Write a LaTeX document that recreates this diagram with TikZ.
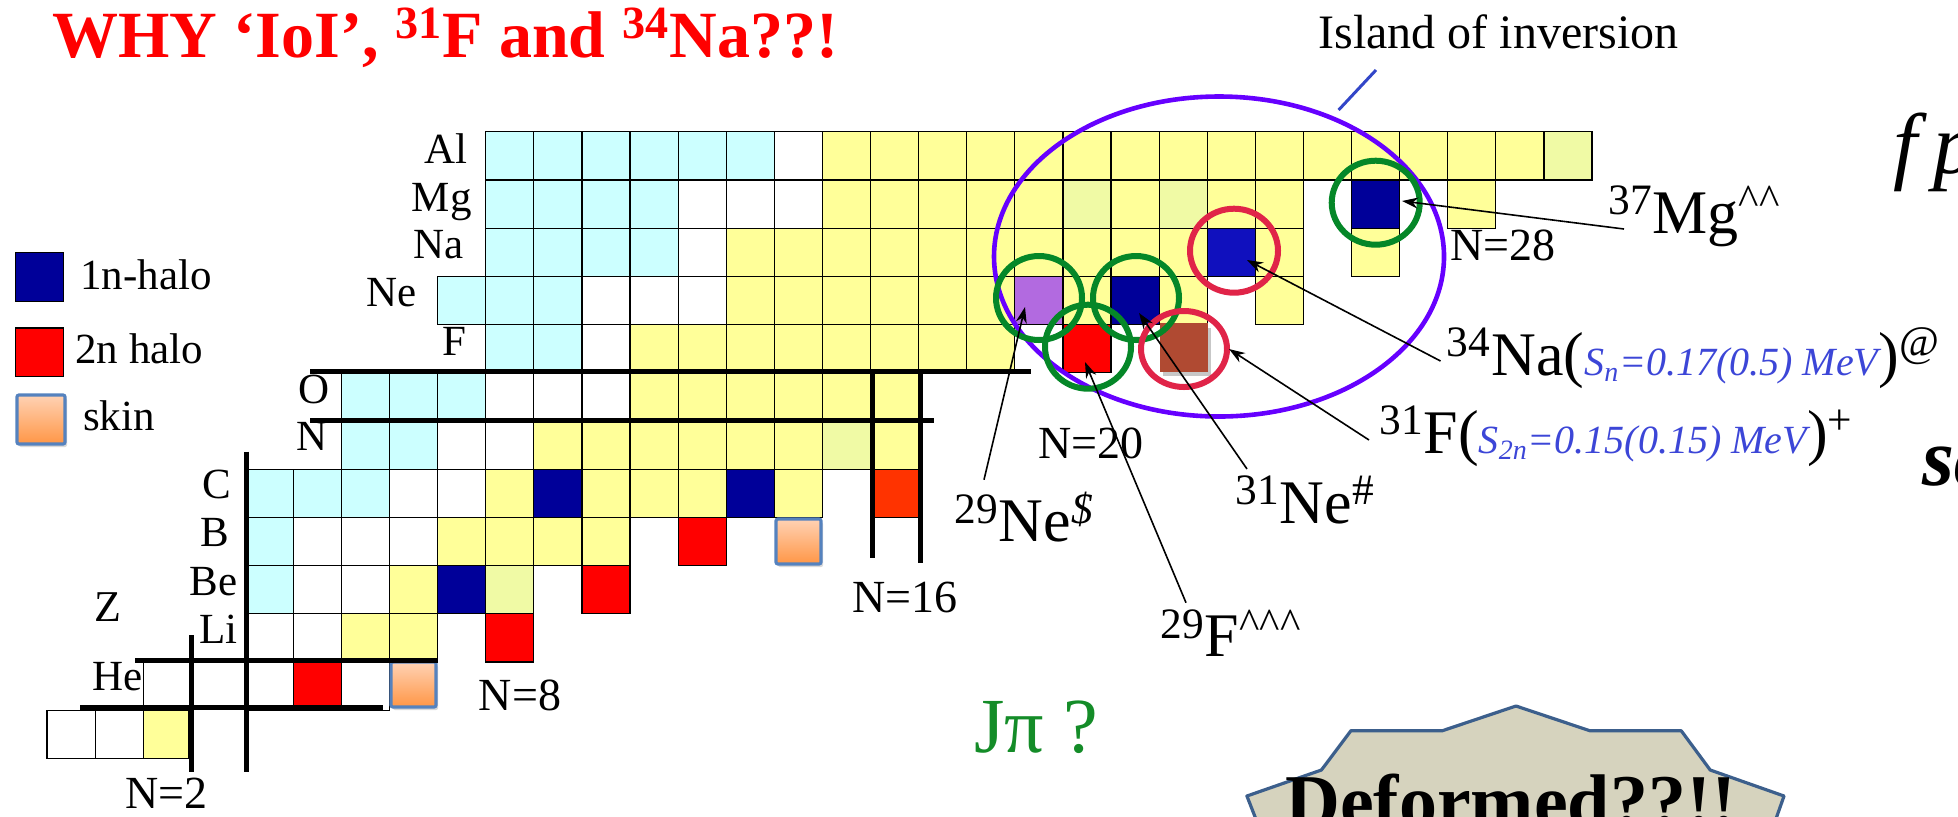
\documentclass[tikz,border=0pt]{standalone}
\usepackage{fontspec}
\setmainfont{Liberation Serif}
\usepackage{xcolor}
\usepackage{tikz}
\usetikzlibrary{arrows.meta, shadows}

\definecolor{nucCyan}{RGB}{204,255,255}
\definecolor{nucYellow}{RGB}{255,255,153}
\definecolor{nucPale}{RGB}{240,250,165}
\definecolor{haloOne}{RGB}{0,0,153}
\definecolor{haloOneB}{RGB}{16,16,190}
\definecolor{haloTwo}{RGB}{255,0,0}
\definecolor{haloTwoB}{RGB}{255,51,0}
\definecolor{nePurple}{RGB}{178,106,224}
\definecolor{fBrown}{RGB}{176,74,50}
\definecolor{islViolet}{RGB}{102,0,255}
\definecolor{islBlue}{RGB}{50,70,200}
\definecolor{ringGreen}{RGB}{5,135,40}
\definecolor{ringRed}{RGB}{224,36,72}
\definecolor{labBlue}{RGB}{60,70,215}
\definecolor{skinEdge}{RGB}{85,130,190}
\definecolor{skinTop}{RGB}{255,210,180}
\definecolor{skinBot}{RGB}{255,150,70}
\definecolor{deformFill}{RGB}{214,211,190}
\definecolor{deformEdge}{RGB}{60,95,140}
\definecolor{jpGreen}{RGB}{20,140,40}

% one box of the chart: column, Z, colour
\newcommand{\nuc}[3]{\filldraw[cell, fill=#3] ({485.7+48.1*(#1)},{131.7+48.2*(13-(#2))}) rectangle ++(48.1,48.2);}
\newcommand{\sepText}[1]{{\color{labBlue}\fontsize{20}{22}\selectfont\itshape #1}}

\begin{document}
\begin{tikzpicture}[
        x=0.5pt, y=-0.5pt,
        cell/.style={draw=black, line width=0.6pt},
        magic/.style={line width=2.5pt},
        skinbox/.style={draw=skinEdge, line width=1.6pt, rounded corners=1pt, top color=skinTop, bottom color=skinBot,
            drop shadow={opacity=0.3, shadow xshift=1pt, shadow yshift=-1.5pt}},
        ring/.style={line width=3pt},
        ptr/.style={-{Stealth[length=8pt, width=5.5pt]}, line width=0.8pt},
        elt/.style={anchor=base east, inner sep=0pt, font=\fontsize{21.5}{24}\selectfont},
        legend/.style={anchor=base west, inner sep=0pt, font=\fontsize{21.5}{24}\selectfont},
        magicnum/.style={anchor=base west, inner sep=0pt, font=\fontsize{23}{26}\selectfont},
        nucl/.style={anchor=base west, inner sep=0pt, font=\fontsize{31}{34}\selectfont}
    ]
    \useasboundingbox (0,0) rectangle (1958,816);
    \clip (0,0) rectangle (1958,816);

    \node[anchor=base west, inner sep=0pt, text=red, font=\fontsize{33}{36}\selectfont\bfseries] (title) at (52,57)
        {WHY ‘IoI’, \textsuperscript{31}F and \textsuperscript{34}Na??!};

    % legend
    \filldraw[cell, fill=haloOne] (15.6,252.7) rectangle (63.8,301.3);
    \node[legend] (legOne) at (80,289) {1n-halo};
    \filldraw[cell, fill=haloTwo] (15.6,328) rectangle (63.8,376.7);
    \node[legend] (legTwo) at (75,363) {2n halo};
    \draw[skinbox] (17,395) rectangle (65,444);
    \node[legend] (legSkin) at (82.6,430) {skin};

    % chart
    \foreach \z/\from/\to/\c in {
        13/0/5/nucCyan, 13/6/6/white, 13/7/21/nucYellow, 13/22/22/nucPale,
        12/0/3/nucCyan, 12/4/6/white, 12/7/11/nucYellow, 12/12/12/nucPale, 12/13/13/nucYellow, 12/14/14/nucPale,
        12/15/16/nucYellow, 12/18/18/haloOne, 12/20/20/nucYellow,
        11/0/3/nucCyan, 11/4/4/white, 11/5/14/nucYellow, 11/15/15/haloOneB, 11/16/16/nucYellow, 11/18/18/nucYellow,
        10/-1/1/nucCyan, 10/2/4/white, 10/5/10/nucYellow, 10/11/11/nePurple, 10/12/12/nucYellow, 10/13/13/haloOne,
        10/14/14/nucYellow, 10/16/16/nucYellow,
        9/0/1/nucCyan, 9/2/2/white, 9/3/10/nucYellow, 9/12/12/haloTwo,
        8/-3/-1/nucCyan, 8/0/2/white, 8/3/8/nucYellow,
        7/-3/-2/nucCyan, 7/-1/0/white, 7/1/6/nucYellow, 7/7/7/nucPale, 7/8/8/nucYellow,
        6/-5/-3/nucCyan, 6/-2/-1/white, 6/0/0/nucYellow, 6/1/1/haloOne, 6/2/4/nucYellow, 6/5/5/haloOne,
        6/6/6/nucYellow, 6/8/8/haloTwoB,
        5/-5/-5/nucCyan, 5/-4/-2/white, 5/-1/2/nucYellow, 5/4/4/haloTwo,
        4/-5/-5/nucCyan, 4/-4/-3/white, 4/-2/-2/nucYellow, 4/-1/-1/haloOne, 4/0/0/nucPale, 4/2/2/haloTwo,
        3/-5/-4/white, 3/-3/-2/nucYellow, 3/0/0/haloTwo,
        2/-5/-5/white, 2/-4/-4/haloTwo, 2/-3/-3/white}
        \foreach \j in {\from,...,\to} {\nuc{\j}{\z}{\c}};
    \foreach \x/\w/\c in {46.9/48.2/white, 95.1/48.2/white, 143.3/45/nucYellow}
        \filldraw[cell, fill=\c] (\x,710.1) rectangle ++(\w,48.2);
    \draw[cell] (143.3,660) -- (143.3,707.3);
    \fill[black!22] (1163,328) rectangle ++(48.1,48.2);
    \fill[fBrown] (1159.8,323.3) rectangle ++(48.1,48.2);
    \draw[skinbox] (776,519) rectangle ++(45,45);
    \draw[skinbox] (391,662) rectangle ++(45,45);

    % magic lines
    \draw[magic] (310,371.7) -- (1031,371.7);
    \draw[magic] (310,420) -- (934,420);
    \draw[magic] (872,371.7) -- (872,558);
    \draw[magic] (920,371.7) -- (920,563);
    \draw[magic] (135,660) -- (438.3,660);
    \draw[magic] (80,707.3) -- (383.3,707.3);
    \draw[magic] (191,635) -- (191,771.7);
    \draw[magic] (246.7,451.7) -- (246.7,771.7);

    % element names
    \foreach \e/\x/\y in {Al/468/163, Mg/472/211.7, Na/464/258, Ne/417/306.7, F/466.5/355, O/330/403, N/328/450,
        C/232/498, B/230/546.7, Be/237.5/595, Li/238/643, He/143/690.7}
        \node[elt] (elt\e) at (\x,\y) {\e};
    \node[magicnum, font=\fontsize{22}{24}\selectfont] (zAxis) at (94,621.7) {Z};

    \node[magicnum] (nTwo) at (125,808) {N=2};
    \node[magicnum] (nEight) at (478.5,710) {N=8};
    \node[magicnum] (nSixteen) at (852,612) {N=16};
    \node[magicnum] (nTwenty) at (1038,458.3) {N=20};
    \node[magicnum] (nTwentyEight) at (1450,260) {N=28};

    % island of inversion
    \draw[line width=2.3pt, islViolet] (1219,256.5) ellipse [x radius=225, y radius=160];
    \node[anchor=base west, inner sep=0pt, font=\fontsize{24}{26}\selectfont] (isl) at (1318,48) {Island of inversion};
    \coordinate (islTip) at (1338.6,110);
    \draw[line width=1.5pt, islBlue] ([xshift=29pt, yshift=-11pt]isl.base west) -- (islTip);

    \draw[ring, ringGreen] (1375.7,202.7) ellipse [x radius=44, y radius=42];
    \draw[ring, ringRed] (1234,250.7) ellipse [x radius=44, y radius=42];
    \draw[ring, ringGreen] (1039,298) ellipse [x radius=43, y radius=42];
    \draw[ring, ringGreen] (1136,298) ellipse [x radius=43, y radius=42];
    \draw[ring, ringGreen] (1088,346.7) ellipse [x radius=43, y radius=42];
    \draw[ring, ringRed] (1184,349) ellipse [x radius=43, y radius=38];

    % nuclei
    \node[nucl] (lblMg37) at (1608,233) {\textsuperscript{37}Mg\textsuperscript{\textasciicircum\textasciicircum}};
    \node[nucl] (lblNa34) at (1446.5,375)
        {\textsuperscript{34}Na(\sepText{S\textsubscript{n}=0.17(0.5) MeV})\textsuperscript{@}};
    \node[nucl] (lblF31) at (1379,453)
        {\textsuperscript{31}F(\sepText{S\textsubscript{2n}=0.15(0.15) MeV})\textsuperscript{+}};
    \node[nucl] (lblNe31) at (1235,523) {\textsuperscript{31}Ne\textsuperscript{\#}};
    \node[nucl] (lblNe29) at (954,541.7) {\textsuperscript{29}Ne\textsuperscript{\textit{\$}}};
    \node[nucl] (lblF29) at (1160,656.7) {\textsuperscript{29}F\textsuperscript{\textasciicircum\textasciicircum\textasciicircum}};

    \coordinate (tipMg37) at (1402,201);
    \coordinate (tipNa34) at (1247,260);
    \coordinate (tipF31) at (1229,349);
    \coordinate (tipNe31) at (1139,313);
    \coordinate (tipF29) at (1085,362);
    \coordinate (tipNe29) at (1025,307);

    \draw[ptr] ([xshift=8pt, yshift=2pt]lblMg37.base west) -- (tipMg37);
    \draw[ptr] ([xshift=-3pt, yshift=7pt]lblNa34.base west) -- (tipNa34);
    \draw[ptr] ([xshift=-5pt, yshift=6.5pt]lblF31.base west) -- (tipF31);
    \draw[ptr] ([xshift=6pt, yshift=27pt]lblNe31.base west) -- (tipNe31);
    \draw[ptr] ([xshift=13pt, yshift=27pt]lblF29.base west) -- (tipF29);
    \draw[ptr] ([xshift=15pt, yshift=31pt]lblNe29.base west) -- (tipNe29);

    \node[anchor=base west, inner sep=0pt, font=\fontsize{43}{46}\selectfont\itshape] (fpShell) at (1893,173) {f\kern8pt p};
    \node[anchor=base west, inner sep=0pt, font=\fontsize{41}{44}\selectfont\bfseries\itshape] (sdShell) at (1922,485) {sd};
    \node[anchor=base west, inner sep=0pt, text=jpGreen, font=\fontsize{39}{42}\selectfont] (jpi) at (974,752) {Jπ ?};

    % deformed
    \filldraw[fill=deformFill, draw=deformEdge, line width=1.6pt, line join=round]
        (1246.9,796) -- (1321.4,770) -- (1350.9,730.7) -- (1442.4,730.7) -- (1516,706) -- (1589.7,730.7)
        -- (1681.2,730.7) -- (1710.2,770) -- (1784,796) -- (1765,850) -- (1268,850) -- cycle;
    \node[anchor=base, inner sep=0pt, font=\fontsize{38}{42}\selectfont\bfseries] (deform) at (1511,827) {Deformed??!!};
\end{tikzpicture}
\end{document}
